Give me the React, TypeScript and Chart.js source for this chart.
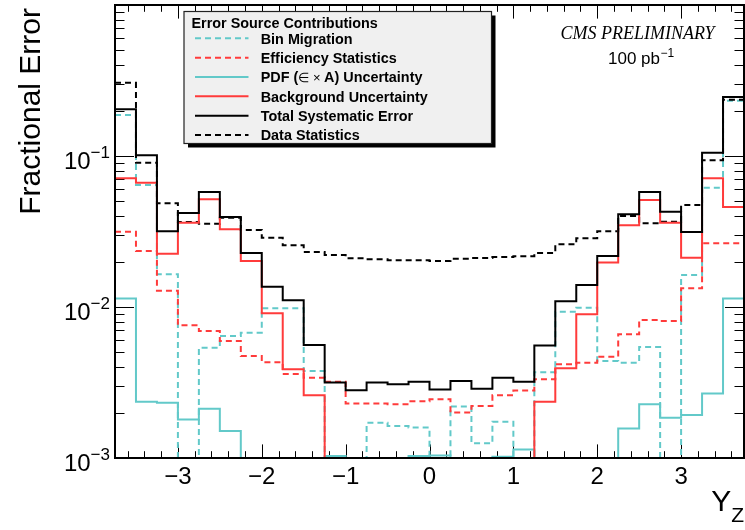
import React, { useEffect, useRef } from 'react';
import { Chart, registerables } from 'chart.js';

Chart.register(...registerables);

// ---- data ----
const BIN_EDGES = [-3.75, -3.5, -3.25, -3, -2.75, -2.5, -2.25, -2, -1.75, -1.5, -1.25, -1, -0.75, -0.5, -0.25, 0, 0.25, 0.5, 0.75, 1, 1.25, 1.5, 1.75, 2, 2.25, 2.5, 2.75, 3, 3.25, 3.5, 3.75];

const BIN_MIGRATION = [0.187, 0.0643, 0.0165, 0, 0.00538, 0.00642, 0.00676, 0.0098, 0.0098, 0.00377, 0, 0, 0.00171, 0.00163, 0.00159, 0, 0.00219, 0.00125, 0.00174, 0, 0.0037, 0.0093, 0.0099, 0.00439, 0.00428, 0.00543, 0, 0.0163, 0.0617, 0.232];
const EFFICIENCY_STATS = [0.0315, 0.0235, 0.0128, 0.00757, 0.00693, 0.00596, 0.00474, 0.0043, 0.0036, 0.0034, 0.0032, 0.0023, 0.0023, 0.00227, 0.00238, 0.00245, 0.002, 0.00221, 0.0026, 0.0028, 0.00332, 0.00417, 0.00428, 0.00469, 0.00659, 0.0082, 0.00809, 0.0133, 0.0264, 0.0264];
const PDF_UNCERTAINTY = [0.0114, 0.00236, 0.00232, 0.0018, 0.00212, 0.00151, 0, 0, 0, 0, 0.00103, 0, 0, 0, 0.00103, 0.00104, 0, 0, 0.00102, 0.00114, 0, 0, 0, 0, 0.00157, 0.00227, 0.00185, 0.00193, 0.00267, 0.0114];
const BACKGROUND_UNC = [0.0712, 0.0666, 0.0225, 0.0362, 0.0517, 0.0327, 0.0202, 0.00908, 0.00387, 0.0026, 0, 0, 0, 0, 0, 0, 0, 0, 0, 0, 0.00236, 0.00393, 0.00895, 0.0197, 0.0348, 0.0511, 0.0362, 0.0212, 0.0712, 0.0459];
const TOTAL_SYST = [0.204, 0.101, 0.0318, 0.042, 0.0578, 0.0395, 0.0228, 0.0136, 0.0111, 0.0056, 0.00316, 0.00281, 0.00316, 0.00308, 0.0032, 0.00284, 0.00324, 0.00287, 0.0034, 0.0032, 0.00555, 0.0109, 0.014, 0.0218, 0.0411, 0.0578, 0.0428, 0.0314, 0.105, 0.246];
const DATA_STATS = [0.305, 0.0903, 0.0486, 0.0365, 0.0356, 0.039, 0.0323, 0.0288, 0.0256, 0.0231, 0.0221, 0.021, 0.0207, 0.0204, 0.0204, 0.0202, 0.0209, 0.0211, 0.0214, 0.0217, 0.0228, 0.026, 0.0285, 0.0318, 0.0401, 0.0358, 0.0367, 0.0473, 0.0936, 0.236];

const X_TICK_LABELS = [-3, -2, -1, 0, 1, 2, 3];
const X_MINOR_STEP = 0.2;
const Y_DECADES = [-3, -2, -1, 0];
const Y_LABEL_DECADES = [-3, -2, -1];
const X_MIN = -3.75;
const X_MAX = 3.75;
const Y_MIN = 1e-3;
const Y_MAX = 1;

const LEGEND_HEADER = 'Error Source Contributions';
const LEGEND_LABELS = ['Bin Migration', 'Efficiency Statistics', 'PDF (∈ × A) Uncertainty', 'Background Uncertainty', 'Total Systematic Error', 'Data Statistics'];
const X_TITLE = 'Y';
const X_TITLE_SUB = 'Z';
const Y_TITLE = 'Fractional Error';
const CMS_LABEL = 'CMS PRELIMINARY';
const LUMI_LABEL = '100 pb';
const LUMI_EXP = '−1';

const CYAN = '#62c9c9';
const RED = '#ff3b3b';
const BLACK = '#000000';
const DASH = [6, 4];
const SANS = "'Liberation Sans', Arial, Helvetica, sans-serif";
const SERIF = "'Liberation Serif', 'Times New Roman', serif";

const minus = (s: string) => s.replace('-', '−');

function toSteps(values: number[]) {
  const pts = values.map((v, i) => ({ x: BIN_EDGES[i], y: Math.max(v, Y_MIN) }));
  pts.push({ x: BIN_EDGES[BIN_EDGES.length - 1], y: Math.max(values[values.length - 1], Y_MIN) });
  return pts;
}

const LEGEND_STYLES = [
  { color: CYAN, dash: DASH },
  { color: RED, dash: DASH },
  { color: CYAN, dash: [] as number[] },
  { color: RED, dash: [] as number[] },
  { color: BLACK, dash: [] as number[] },
  { color: BLACK, dash: DASH },
];

const rootPlugin = {
  id: 'rootFrame',
  beforeDatasetsDraw(chart: any) {
    const { ctx, chartArea: a, scales } = chart;
    const xs = scales.x;
    const ys = scales.y;
    ctx.save();
    ctx.strokeStyle = '#000';
    ctx.lineWidth = 1;
    // x ticks (bottom and top)
    const nMin = Math.ceil(X_MIN / X_MINOR_STEP);
    const nMax = Math.floor(X_MAX / X_MINOR_STEP);
    for (let i = nMin; i <= nMax; i++) {
      const v = i * X_MINOR_STEP;
      const major = i % 5 === 0;
      const len = major ? 13.6 : 6.8;
      const px = Math.round(xs.getPixelForValue(v)) + 0.5;
      ctx.beginPath();
      ctx.moveTo(px, a.bottom);
      ctx.lineTo(px, a.bottom - len);
      ctx.moveTo(px, a.top);
      ctx.lineTo(px, a.top + len);
      ctx.stroke();
    }
    // y ticks (left and right)
    for (const d of Y_DECADES) {
      for (let k = 1; k <= 9; k++) {
        const v = k * Math.pow(10, d);
        if (v < Y_MIN - 1e-12 || v > Y_MAX + 1e-12) continue;
        const len = k === 1 ? 19 : 9.5;
        const py = Math.round(ys.getPixelForValue(v)) + 0.5;
        ctx.beginPath();
        ctx.moveTo(a.left, py);
        ctx.lineTo(a.left + len, py);
        ctx.moveTo(a.right, py);
        ctx.lineTo(a.right - len, py);
        ctx.stroke();
      }
    }
    ctx.restore();
  },
  afterDraw(chart: any) {
    const { ctx, chartArea: a, scales } = chart;
    const xs = scales.x;
    const ys = scales.y;
    ctx.save();
    // frame
    ctx.strokeStyle = '#000';
    ctx.lineWidth = 2;
    ctx.strokeRect(a.left, a.top, a.right - a.left, a.bottom - a.top);

    ctx.fillStyle = '#000';
    // x tick labels
    ctx.font = `24px ${SANS}`;
    ctx.textAlign = 'center';
    ctx.textBaseline = 'alphabetic';
    for (const t of X_TICK_LABELS) {
      ctx.fillText(minus(String(t)), xs.getPixelForValue(t), 484);
    }
    // y tick labels 10^n
    for (const d of Y_LABEL_DECADES) {
      const py = ys.getPixelForValue(Math.pow(10, d));
      const exp = minus(String(d));
      ctx.font = `17px ${SANS}`;
      const ew = ctx.measureText(exp).width;
      const right = 110;
      ctx.textAlign = 'left';
      ctx.fillText(exp, right - ew, py + 2);
      ctx.font = `24px ${SANS}`;
      ctx.textAlign = 'right';
      ctx.fillText('10', right - ew, py + 12.5);
    }
    // y title
    ctx.save();
    ctx.translate(40, 8);
    ctx.rotate(-Math.PI / 2);
    ctx.font = `30px ${SANS}`;
    ctx.textAlign = 'right';
    ctx.fillText(Y_TITLE, 0, 0);
    ctx.restore();
    // x title
    ctx.font = `21px ${SANS}`;
    const zw = ctx.measureText(X_TITLE_SUB).width;
    ctx.textAlign = 'right';
    ctx.fillText(X_TITLE_SUB, 744, 522);
    ctx.font = `30px ${SANS}`;
    ctx.fillText(X_TITLE, 744 - zw, 511);

    // CMS labels
    ctx.font = `italic 18px ${SERIF}`;
    ctx.textAlign = 'center';
    ctx.fillText(CMS_LABEL, 637.5, 39);
    ctx.font = `17px ${SANS}`;
    ctx.textAlign = 'left';
    const lw = ctx.measureText(LUMI_LABEL).width;
    ctx.fillText(LUMI_LABEL, 608, 64);
    ctx.font = `12px ${SANS}`;
    ctx.fillText(LUMI_EXP, 608 + lw + 0.5, 56.5);

    // legend box with shadow
    const bx = 184, by = 11.5, bw = 307.5, bh = 132;
    ctx.fillStyle = '#000';
    ctx.fillRect(bx + 4, by + 4, bw, bh);
    ctx.fillStyle = '#f0f0f0';
    ctx.fillRect(bx, by, bw, bh);
    ctx.strokeStyle = '#222';
    ctx.lineWidth = 1.2;
    ctx.strokeRect(bx, by, bw, bh);

    ctx.fillStyle = '#000';
    ctx.textAlign = 'left';
    ctx.font = `bold 14.4px ${SANS}`;
    ctx.fillText(LEGEND_HEADER, 191.5, 27.5);
    LEGEND_LABELS.forEach((label, i) => {
      const cy = 38.3 + i * 19.34;
      const st = LEGEND_STYLES[i];
      ctx.save();
      ctx.strokeStyle = st.color;
      ctx.lineWidth = 2;
      ctx.setLineDash(st.dash);
      ctx.beginPath();
      ctx.moveTo(195, cy);
      ctx.lineTo(248.5, cy);
      ctx.stroke();
      ctx.restore();
      ctx.fillStyle = '#000';
      const base = cy + 5.2;
      if (label.includes('∈')) {
        const i1 = label.indexOf('∈');
        const i2 = label.indexOf('A)');
        const segs: [string, string][] = [
          [label.slice(0, i1), `bold 14.4px ${SANS}`],
          [label.slice(i1, i2), `13px ${SANS}`],
          [label.slice(i2), `bold 14.4px ${SANS}`],
        ];
        let x = 260.7;
        for (const [s, f] of segs) {
          ctx.font = f;
          ctx.fillText(s, x, base);
          x += ctx.measureText(s).width;
        }
      } else {
        ctx.font = `bold 14.4px ${SANS}`;
        ctx.fillText(label, 260.7, base);
      }
    });
    ctx.restore();
  },
};

export default function App() {
  const ref = useRef<HTMLCanvasElement | null>(null);
  useEffect(() => {
    if (!ref.current) return;
    const mk = (label: string, values: number[], color: string, dash: number[]) => ({
      label,
      data: toSteps(values),
      borderColor: color,
      backgroundColor: color,
      borderWidth: 2,
      borderDash: dash,
      stepped: true as const,
      fill: false,
      pointRadius: 0,
      pointHoverRadius: 0,
      tension: 0,
    });
    const chart = new Chart(ref.current, {
      type: 'line',
      data: {
        datasets: [
          mk(LEGEND_LABELS[4], TOTAL_SYST, BLACK, []),
          mk(LEGEND_LABELS[3], BACKGROUND_UNC, RED, []),
          mk(LEGEND_LABELS[5], DATA_STATS, BLACK, DASH),
          mk(LEGEND_LABELS[1], EFFICIENCY_STATS, RED, DASH),
          mk(LEGEND_LABELS[0], BIN_MIGRATION, CYAN, DASH),
          mk(LEGEND_LABELS[2], PDF_UNCERTAINTY, CYAN, []),
        ],
      },
      options: {
        animation: false,
        responsive: false,
        maintainAspectRatio: false,
        devicePixelRatio: 1,
        layout: { padding: { left: 115, right: 1, top: 5, bottom: 72 } },
        scales: {
          x: { type: 'linear', min: X_MIN, max: X_MAX, display: false },
          y: { type: 'logarithmic', min: Y_MIN, max: Y_MAX, display: false },
        },
        plugins: { legend: { display: false }, tooltip: { enabled: false } },
      },
      plugins: [rootPlugin],
    });
    return () => chart.destroy();
  }, []);
  return (
    <div style={{ position: 'absolute', left: 0, top: 0, width: 745, height: 530, background: '#fff' }}>
      <canvas ref={ref} width={745} height={530} style={{ display: 'block' }} />
    </div>
  );
}
